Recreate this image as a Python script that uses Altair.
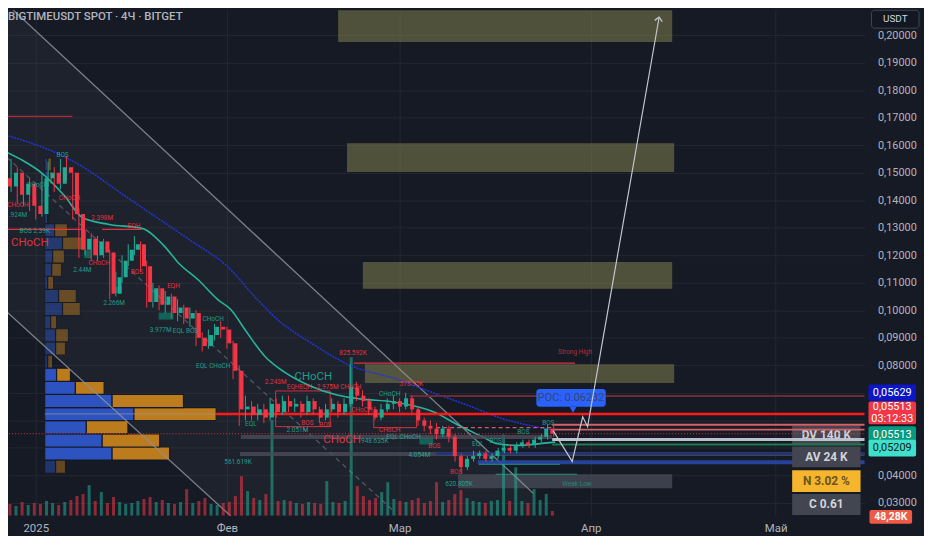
import altair as alt
import pandas as pd

TITLE = "BIGTIMEUSDT SPOT · 4Ч · BITGET"
FONT = "Roboto"

# ---------------- candles (one per day, from 2024-12-27) ----------------
CANDLE_START = "2024-12-27"
opens = [0.148, 0.145, 0.150, 0.142, 0.146,
         0.138, 0.135, 0.148, 0.150, 0.146, 0.152, 0.150, 0.135, 0.122, 0.126,
         0.120, 0.125, 0.121, 0.106, 0.112, 0.118, 0.122, 0.124, 0.116, 0.103,
         0.108, 0.102, 0.105, 0.099, 0.101, 0.097, 0.099, 0.090, 0.087, 0.091, 0.094,
         0.093, 0.088, 0.078, 0.064, 0.065, 0.062, 0.064, 0.061, 0.066, 0.063,
         0.067, 0.065, 0.066, 0.063, 0.067, 0.064, 0.061, 0.064, 0.066, 0.063,
         0.066, 0.072, 0.069, 0.067, 0.064, 0.061, 0.064, 0.066,
         0.067, 0.065, 0.068, 0.064, 0.060, 0.058, 0.057, 0.055, 0.057, 0.054,
         0.047, 0.043, 0.046, 0.047, 0.048, 0.046, 0.047, 0.049, 0.050, 0.049,
         0.051, 0.052, 0.051, 0.053, 0.054, 0.057]
closes = [0.145, 0.150, 0.142, 0.146, 0.138,
          0.135, 0.148, 0.150, 0.146, 0.152, 0.150, 0.135, 0.122, 0.126, 0.120,
          0.125, 0.121, 0.106, 0.112, 0.118, 0.122, 0.124, 0.116, 0.103, 0.108,
          0.102, 0.105, 0.099, 0.101, 0.097, 0.099, 0.090, 0.087, 0.091, 0.094, 0.093,
          0.088, 0.078, 0.064, 0.065, 0.062, 0.064, 0.061, 0.066, 0.063, 0.067,
          0.065, 0.066, 0.063, 0.067, 0.064, 0.061, 0.064, 0.066, 0.063, 0.066,
          0.072, 0.069, 0.067, 0.064, 0.061, 0.064, 0.066, 0.067,
          0.065, 0.068, 0.064, 0.060, 0.058, 0.057, 0.055, 0.057, 0.054, 0.047,
          0.043, 0.046, 0.047, 0.048, 0.046, 0.047, 0.049, 0.050, 0.049, 0.051,
          0.052, 0.051, 0.053, 0.054, 0.057, 0.05513]
highs = [0.152, 0.155, 0.152, 0.149, 0.148,
         0.141, 0.150, 0.154, 0.152, 0.155, 0.156, 0.152, 0.137, 0.129, 0.128,
         0.127, 0.126, 0.122, 0.114, 0.120, 0.124, 0.127, 0.125, 0.118, 0.110,
         0.109, 0.107, 0.106, 0.104, 0.102, 0.101, 0.100, 0.092, 0.093, 0.095, 0.096,
         0.094, 0.089, 0.080, 0.069, 0.067, 0.066, 0.066, 0.068, 0.068, 0.069,
         0.069, 0.068, 0.067, 0.069, 0.068, 0.065, 0.066, 0.068, 0.067, 0.068,
         0.0803, 0.074, 0.071, 0.068, 0.065, 0.066, 0.068, 0.069,
         0.068, 0.070, 0.069, 0.065, 0.061, 0.060, 0.059, 0.058, 0.058, 0.055,
         0.048, 0.047, 0.049, 0.049, 0.049, 0.048, 0.050, 0.051, 0.051, 0.052,
         0.053, 0.053, 0.054, 0.055, 0.0585, 0.058]
lows = [0.141, 0.143, 0.139, 0.138, 0.136,
        0.133, 0.134, 0.145, 0.143, 0.144, 0.147, 0.133, 0.119, 0.120, 0.118,
        0.118, 0.119, 0.104, 0.105, 0.110, 0.116, 0.120, 0.114, 0.101, 0.101,
        0.100, 0.099, 0.097, 0.096, 0.095, 0.094, 0.087, 0.085, 0.086, 0.089, 0.090,
        0.086, 0.075, 0.058, 0.060, 0.060, 0.060, 0.059, 0.060, 0.061, 0.062,
        0.063, 0.063, 0.061, 0.062, 0.062, 0.059, 0.060, 0.063, 0.061, 0.062,
        0.065, 0.067, 0.065, 0.062, 0.060, 0.060, 0.063, 0.064,
        0.063, 0.064, 0.062, 0.058, 0.056, 0.055, 0.053, 0.054, 0.052, 0.045,
        0.041, 0.042, 0.045, 0.046, 0.045, 0.045, 0.046, 0.048, 0.048, 0.048,
        0.050, 0.050, 0.050, 0.052, 0.053, 0.054]
volumes = [1.2, 1.0, 1.4, 1.1, 1.3,
           1.2, 1.5, 1.3, 1.1, 1.4, 1.6, 2.0, 2.2, 3.1, 1.5,
           2.4, 1.3, 1.9, 1.4, 1.2, 1.3, 1.5, 1.7, 1.9, 1.4,
           1.6, 1.3, 1.2, 1.4, 2.7, 1.3, 1.5, 1.8, 1.2, 1.1, 1.3,
           1.4, 2.0, 4.0, 2.5, 1.8, 1.6, 2.2, 9.7, 1.5, 1.6,
           1.5, 1.3, 1.2, 1.4, 1.3, 1.2, 3.5, 1.4, 1.3, 1.5,
           16.0, 3.0, 2.0, 1.6, 1.8, 2.4, 3.4, 1.7,
           1.5, 1.4, 1.6, 1.8, 1.3, 1.5, 3.4, 1.4, 1.6, 2.2,
           2.6, 1.8, 1.5, 1.4, 1.3, 1.5, 1.6, 8.2, 1.5, 4.9,
           1.5, 1.3, 2.7, 1.6, 2.2, 0.5]

# ---------------- moving averages (days since 2025-01-01, price) ----------------
ma_blue_day = [-5.79, 5.95, 15.59, 25.08, 31.19, 35.53, 39.23, 44.53, 50.96, 58.52,
               64.95, 70.26, 75.72, 81.03, 84.24]
ma_blue_val = [0.1643, 0.1543, 0.1398, 0.1254, 0.1157, 0.1049, 0.0966, 0.0883, 0.0800, 0.0750,
               0.0696, 0.0653, 0.0606, 0.0577, 0.05629]
ma_teal_day = [-5.79, -2.57, 1.13, 4.66, 7.56, 11.90, 17.20, 20.74, 23.15, 26.37, 29.58, 31.67,
               33.92, 37.14, 40.35, 44.53, 48.87, 52.57, 58.04, 61.25, 64.47, 68.65, 72.99,
               74.60, 78.30, 83.76, 84.24]
ma_teal_val = [0.1586, 0.1550, 0.1496, 0.1416, 0.1337, 0.1312, 0.1298, 0.1236, 0.1172, 0.1110,
               0.1038, 0.1002, 0.0930, 0.0833, 0.0775, 0.0725, 0.0692, 0.0678, 0.0667, 0.0653,
               0.0631, 0.0581, 0.0534, 0.0516, 0.0509, 0.0520, 0.05209]

# ---------------- descending channel ----------------
ch_upper_day = [-5.79, 80.71]
ch_upper_val = [0.21355, 0.03347]
ch_lower_day = [-5.79, 32.48]
ch_lower_val = [0.10166, 0.02349]
ch_mid_day = [-5.79, 58.04]
ch_mid_val = [0.15785, 0.02709]
ch_fill_day = [-5.79, 32.48, 80.71]
ch_fill_top = [0.21355, 0.13444, 0.03347]
ch_fill_bot = [0.10166, 0.02349, 0.02349]

# ---------------- volume profile (rows bottom -> top) ----------------
profile_low = 0.04078
profile_high = 0.15533
profile_buy = [110, 680, 580, 420, 900, 680, 310, 120, 30, 110, 110, 60, 180, 140, 30, 70,
               80, 180, 100, 30, 30, 50, 50, 30]
profile_sell = [100, 580, 580, 420, 830, 720, 290, 140, 50, 100, 130, 60, 180, 180, 60, 100,
                120, 200, 130, 10, 10, 10, 30, 40]
profile_value_area = [False, True, True, True, True, True, True, True] + [False] * 16
poc_price = 0.06232

# ---------------- zones ----------------
target_day1 = [49.04, 50.48, 53.05, 53.38]
target_day2 = [103.22, 103.54, 103.22, 103.54]
target_top = [0.21117, 0.16073, 0.11751, 0.08040]
target_bot = [0.19748, 0.15029, 0.10778, 0.07356]

gray_day1 = [68.49, 84.24]
gray_day2 = [103.22, 103.22]
gray_top = [0.04042, 0.02493]
gray_bot = [0.03537, 0.02241]

demand_day1 = [7.88, 12.70, 19.94, 62.22]
demand_day2 = [8.99, 13.99, 22.35, 64.47]
demand_top = [0.12183, 0.10850, 0.09914, 0.05411]
demand_bot = [0.11895, 0.10634, 0.09661, 0.05122]

supply_day1 = [38.91, 54.82]
supply_day2 = [47.75, 61.74]
supply_top = [0.07068, 0.06239]
supply_bot = [0.05771, 0.05735]

# horizontal levels: kind, price, from day, to day
lvl_kind = ["poc_profile", "poc", "strong_high", "old_high", "bos_red", "bos_red", "supply",
            "ob", "ob", "ob_dash", "last", "gray_band", "lavender", "green", "gray_band",
            "navy", "blue", "teal", "teal"]
lvl_price = [0.06232, 0.06232, 0.08076, 0.17046, 0.1294, 0.1294, 0.06888,
             0.05843, 0.05663, 0.05735, 0.05513, 0.05393, 0.05303, 0.05122, 0.04780,
             0.04798, 0.04474, 0.04402, 0.04042]
lvl_from = [1.45, 29.26, 51.6, -5.79, -5.79, 10.77, 60.61,
            83.76, 83.76, 64.95, -5.79, 33.28, 83.76, 83.76, 33.12,
            64.95, 71.70, 71.86, 74.60]
lvl_to = [29.26, 135, 87.46, 5.95, 7.40, 17.20, 135,
          135, 135, 83.76, 135, 83.76, 135, 135, 135,
          135, 135, 85.05, 87.78]

# projected path (days, price)
path_day = [83.9, 87.0, 88.7, 89.5, 101.1]
path_val = [0.05627, 0.04510, 0.06131, 0.05771, 0.20648]

# ---------------- structure labels ----------------
ann_text = ["BOS", "CHoCH", "CHoCH", "CHoCH", "2.398M", "EQH", "BOS 2.39K", "CHoCH", "CHoCH",
            "2.44M", "BOS", "2.266M", "EQH", "3.977M", "EQL BOS", "CHoCH", "EQL CHoCH",
            "825.592K", "2.243M", "CHoCH", "2.975M CHoCH", "EQHEQH", "BOS", "2.051M", "CHoCH",
            "948.635K", "561.619K", "CHoCH", "CHoCH", "575.95K", "CHoCH", "EQL CHoCH", "BOS",
            "4.054M", "BOS", "620.805K", "EQL", "BOS", "BOS", "BOS", "Weak Low", "Strong High",
            "EQL", "BOS", ".924M"]
ann_day = [4.34, 0.32, 5.47, -2.89, 10.77, 15.92, -0.16, -0.96, 10.29,
           7.56, 16.40, 12.70, 22.35, 20.26, 24.28, 28.78, 28.78,
           51.45, 38.91, 45.02, 49.20, 42.77, 44.05, 42.44, 49.68,
           54.98, 32.80, 52.89, 57.40, 60.93, 57.40, 59.65, 64.63,
           62.22, 68.17, 68.65, 71.70, 74.60, 79.10, 83.12, 87.78, 87.46,
           34.89, 46.95, -2.89]
ann_price = [0.15641, 0.14561, 0.14092, 0.13840, 0.13336, 0.13048, 0.12867, 0.12435, 0.11715,
             0.11463, 0.11391, 0.10274, 0.10886, 0.09265, 0.09229, 0.09697, 0.07968,
             0.08437, 0.07392, 0.07572, 0.07212, 0.07212, 0.05915, 0.05663, 0.05267,
             0.05231, 0.04474, 0.06383, 0.06960, 0.07320, 0.05663, 0.05411, 0.05050,
             0.04726, 0.04114, 0.03682, 0.05123, 0.05231, 0.05591, 0.05915, 0.03682, 0.08473,
             0.05879, 0.05843, 0.13444]
ann_kind = ["bull", "bull", "bear", "bear", "bear", "bear", "bull", "bear_big", "bear",
            "bull", "bear", "bull", "bear", "bull", "bull", "bull", "bull",
            "bear", "bear", "bull_big", "bear", "bear", "bear", "bull", "bear_big",
            "bull", "bull", "bear", "bull", "bear", "bear", "bull", "bear",
            "bull", "bear", "bull", "bull", "bull", "bull", "bull", "note_bull", "note_bear",
            "bull", "bear", "bull"]

# ---------------- price tags / panel ----------------
tag_values = [0.05629, 0.05513, 0.05513, 0.05209]
tag_texts = ["0,05629", "0,05513", "0,05513", "0,05209"]
tag_subs = ["", "03:12:33", "", ""]
poc_label = "POC: 0.06232"
poc_day = [81.19, 92.44]
poc_box = [0.07140, 0.06491]
poc_tip = (87.14, 0.06383)
panel_texts = ["DV 140 K", "AV 24 K", "N 3.02 %", "C  0.61"]
volume_tag = "48,28K"
currency = "USDT"

# ---------------- axis ----------------
price_ticks = [0.03, 0.04, 0.05, 0.06, 0.07, 0.08, 0.09, 0.10, 0.11, 0.12, 0.13, 0.14, 0.15,
               0.16, 0.17, 0.18, 0.19, 0.20]
hidden_ticks = [0.05, 0.06, 0.07]      # covered by the price tags
month_days = [0, 31, 59, 90, 120]
month_labels = ["2025", "Фев", "Мар", "Апр", "Май"]

# =====================================================================
# styles
BG = "#161a25"
GRID = "#232734"
TXT = "#b2b5be"
UP = "#22ab94"
DOWN = "#f23645"
XD = [-4.50, 134.41]
YD = [0.02529, 0.20901]
W, H = 864, 510

LEVEL_STYLE_BACK = {
    "gray_band": dict(color="#4a4e5a", strokeWidth=4, opacity=0.8),
    "navy": dict(color="#1b2f86", strokeWidth=2, opacity=1),
    "blue": dict(color="#2848a8", strokeWidth=4, opacity=0.9),
    "teal": dict(color="#22ab94", strokeWidth=1, opacity=0.8),
}
LEVEL_STYLE_FRONT = {
    "poc_profile": dict(color="#9598a1", strokeWidth=1, opacity=0.7),
    "poc": dict(color="#ff1a1a", strokeWidth=2.5, opacity=1),
    "strong_high": dict(color="#f23645", strokeWidth=1.3, opacity=0.9),
    "old_high": dict(color="#b22833", strokeWidth=1.2, opacity=1),
    "bos_red": dict(color="#f23645", strokeWidth=1.3, opacity=0.9),
    "supply": dict(color="#6e2a33", strokeWidth=2, opacity=1),
    "ob": dict(color="#e0646c", strokeWidth=2, opacity=0.95),
    "ob_dash": dict(color="#e0646c", strokeWidth=1.2, opacity=0.9, strokeDash=[4, 3]),
    "last": dict(color="#f23645", strokeWidth=1, opacity=0.9, strokeDash=[1, 2]),
    "lavender": dict(color="#c4c7d4", strokeWidth=3, opacity=0.95),
    "green": dict(color="#1e7a4c", strokeWidth=2, opacity=1),
}
LABEL_STYLE = {
    "bull": (UP, 6.5), "bear": (DOWN, 6.5),
    "bull_big": (UP, 11.5), "bear_big": (DOWN, 11.5),
    "note_bull": ("#1f8f7c", 6.5), "note_bear": ("#c23540", 6.5),
}
TAG_STYLE = [
    dict(bg="#0b16c4", fg="#ffffff", dy=-38, h=8.5),
    dict(bg="#f23645", fg="#ffffff", dy=-21, h=11.5),
    dict(bg="#089981", fg="#ffffff", dy=1, h=8.5),
    dict(bg="#3fe0c8", fg="#131722", dy=6, h=8.5),
]
PANEL_STYLE = [
    dict(bg="#434651", fg="#d1d4dc", top=419, bot=438),
    dict(bg="#434651", fg="#d1d4dc", top=440, bot=461),
    dict(bg="#f5b52c", fg="#6a5420", top=464, bot=486),
    dict(bg="#434651", fg="#d1d4dc", top=488, bot=509),
]


def X(field, axis=None):
    return alt.X(field, type="quantitative", axis=axis,
                 scale=alt.Scale(domain=XD, nice=False, zero=False))


def Y(field, axis=None):
    return alt.Y(field, type="quantitative", axis=axis,
                 scale=alt.Scale(domain=YD, nice=False, zero=False))


# ---------------- data frames ----------------
dates = pd.date_range(CANDLE_START, periods=len(closes), freq="D")
cdf = pd.DataFrame({
    "day": (dates - pd.Timestamp("2025-01-01")).days.astype(float),
    "open": opens, "high": highs, "low": lows, "close": closes, "vol": volumes,
})
cdf["dir"] = ["up" if c >= o else "down" for o, c in zip(cdf["open"], cdf["close"])]
cdf["lo"] = cdf[["open", "close"]].min(axis=1)
cdf["hi"] = cdf[["open", "close"]].max(axis=1)
dir_color = alt.Color("dir:N", scale=alt.Scale(domain=["up", "down"], range=[UP, DOWN]),
                      legend=None)

x_label_expr = " : ".join(f"datum.value == {d} ? '{l}'" for d, l in zip(month_days, month_labels)) + " : ''"
hide_expr = " || ".join(f"abs(datum.value - {v}) < 0.0001" for v in hidden_ticks)
y_label_expr = f"({hide_expr}) ? '' : replace(format(datum.value, '.5f'), '.', ',')"
x_axis = alt.Axis(values=month_days, labelExpr=x_label_expr, grid=True, gridColor=GRID,
                  domain=False, ticks=False, labelColor=TXT, labelFontSize=11.5,
                  labelPadding=7, title=None, labelFont=FONT, labelFlush=False)
y_axis = alt.Axis(orient="right", values=price_ticks, labelExpr=y_label_expr,
                  grid=True, gridColor=GRID, domain=False, ticks=False, labelColor=TXT,
                  labelFontSize=11, labelPadding=13, title=None, labelFont=FONT)

layers = []

# channel fill (carries the axes)
fill_df = pd.DataFrame({"d": ch_fill_day, "top": ch_fill_top, "bot": ch_fill_bot})
layers.append(alt.Chart(fill_df).mark_area(color="#ffffff", opacity=0.035, clip=True).encode(
    x=X("d", x_axis), y=Y("top", y_axis), y2=alt.Y2("bot")))

# olive target zones
tz = pd.DataFrame({"d1": target_day1, "d2": target_day2, "t": target_top, "b": target_bot})
layers.append(alt.Chart(tz).mark_rect(color="#8a874f", opacity=0.5, clip=True).encode(
    x=X("d1"), x2=alt.X2("d2"), y=Y("t"), y2=alt.Y2("b")))

gz = pd.DataFrame({"d1": gray_day1, "d2": gray_day2, "t": gray_top, "b": gray_bot})
layers.append(alt.Chart(gz).mark_rect(color="#4a4e5a", opacity=0.75, clip=True).encode(
    x=X("d1"), x2=alt.X2("d2"), y=Y("t"), y2=alt.Y2("b")))

# volume profile
n_rows = len(profile_buy)
step = (profile_high - profile_low) / n_rows
pdf = pd.DataFrame({
    "lo": [profile_low + i * step for i in range(n_rows)],
    "hi": [profile_low + (i + 1) * step for i in range(n_rows)],
    "buy": profile_buy, "sell": profile_sell, "va": profile_value_area,
})
pdf["zero"] = 0
pdf["tot"] = pdf["buy"] + pdf["sell"]
pdf["alpha"] = [0.9 if v else 0.42 for v in pdf["va"]]
PX = alt.Scale(domain=[-370, 8270], nice=False, zero=False)
for c0, c1, col in [("zero", "buy", "#2f5ad0"), ("buy", "tot", "#cf861c")]:
    layers.append(alt.Chart(pdf).mark_rect(color=col, stroke=BG, strokeWidth=1.2).encode(
        x=alt.X(c0, type="quantitative", scale=PX, axis=None), x2=alt.X2(c1),
        y=Y("lo"), y2=alt.Y2("hi"), opacity=alt.Opacity("alpha:Q", scale=None)))

# channel lines
for dd, vv, dash, col in [(ch_upper_day, ch_upper_val, None, "#8d909a"),
                          (ch_lower_day, ch_lower_val, None, "#8d909a"),
                          (ch_mid_day, ch_mid_val, [5, 4], "#5d606b")]:
    kw = dict(color=col, strokeWidth=1.3, clip=True, opacity=0.85)
    if dash:
        kw["strokeDash"] = dash
    layers.append(alt.Chart(pd.DataFrame({"d": dd, "v": vv})).mark_line(**kw).encode(
        x=X("d"), y=Y("v")))

# volume bars
layers.append(alt.Chart(cdf).mark_bar(size=3, opacity=0.55, clip=True).encode(
    x=X("day"),
    y=alt.Y("vol", type="quantitative", axis=None,
            scale=alt.Scale(domain=[0, 51], nice=False, zero=True)),
    color=dir_color))

# demand / supply boxes
dz = pd.DataFrame({"d1": demand_day1, "d2": demand_day2, "t": demand_top, "b": demand_bot})
layers.append(alt.Chart(dz).mark_rect(color="#089981", opacity=0.55).encode(
    x=X("d1"), x2=alt.X2("d2"), y=Y("t"), y2=alt.Y2("b")))
sz = pd.DataFrame({"d1": supply_day1, "d2": supply_day2, "t": supply_top, "b": supply_bot})
layers.append(alt.Chart(sz).mark_rect(fillOpacity=0, stroke="#f23645", strokeWidth=1,
                                      opacity=0.85).encode(
    x=X("d1"), x2=alt.X2("d2"), y=Y("t"), y2=alt.Y2("b")))

# moving averages
layers.append(alt.Chart(pd.DataFrame({"d": ma_teal_day, "v": ma_teal_val})).mark_line(
    color="#26b59b", strokeWidth=1.6, interpolate="monotone", clip=True).encode(
    x=X("d"), y=Y("v")))
layers.append(alt.Chart(pd.DataFrame({"d": ma_blue_day, "v": ma_blue_val})).mark_line(
    color="#2036d8", strokeWidth=1.5, strokeDash=[2, 1], interpolate="monotone",
    clip=True).encode(x=X("d"), y=Y("v")))

ldf = pd.DataFrame({"kind": lvl_kind, "p": lvl_price, "d1": lvl_from, "d2": lvl_to})


def level_layers(styles):
    out = []
    for kind, st in styles.items():
        sub = ldf[ldf["kind"] == kind]
        if len(sub) == 0:
            continue
        out.append(alt.Chart(sub).mark_rule(clip=True, **st).encode(
            x=X("d1"), x2=alt.X2("d2"), y=Y("p")))
    return out


# levels that sit under the stats panel
layers += level_layers(LEVEL_STYLE_BACK)

# stats panel; the first row is crossed by the order-block levels
for txt, st in zip(panel_texts, PANEL_STYLE):
    one = pd.DataFrame({"t": [txt]})
    layers.append(alt.Chart(one).mark_rect(color=st["bg"]).encode(
        x=alt.value(791), x2=alt.value(860), y=alt.value(st["top"]), y2=alt.value(st["bot"])))
    layers.append(alt.Chart(one).mark_text(color=st["fg"], fontSize=12, font=FONT,
                                           fontWeight="bold").encode(
        x=alt.value(825.5), y=alt.value((st["top"] + st["bot"]) / 2), text="t:N"))

# levels drawn over the panel
layers += level_layers(LEVEL_STYLE_FRONT)

# candles
layers.append(alt.Chart(cdf).mark_rule(strokeWidth=1, clip=True).encode(
    x=X("day"), y=Y("low"), y2=alt.Y2("high"), color=dir_color))
layers.append(alt.Chart(cdf).mark_bar(size=4, clip=True).encode(
    x=X("day"), y=Y("lo"), y2=alt.Y2("hi"), color=dir_color))

# structure labels
adf = pd.DataFrame({"text": ann_text, "day": ann_day, "price": ann_price, "kind": ann_kind})
adf["col"] = [LABEL_STYLE[k][0] for k in adf["kind"]]
adf["fs"] = [LABEL_STYLE[k][1] for k in adf["kind"]]
layers.append(alt.Chart(adf).mark_text(font=FONT, opacity=0.9).encode(
    x=X("day"), y=Y("price"), text="text:N",
    color=alt.Color("col:N", scale=None), size=alt.Size("fs:Q", scale=None)))

# POC callout
pocdf = pd.DataFrame({"d1": [poc_day[0]], "d2": [poc_day[1]], "t": [poc_box[0]],
                      "b": [poc_box[1]], "label": [poc_label],
                      "dm": [(poc_day[0] + poc_day[1]) / 2], "vm": [(poc_box[0] + poc_box[1]) / 2],
                      "td": [poc_tip[0]], "tv": [poc_tip[1]]})
layers.append(alt.Chart(pocdf).mark_rect(color="#2962ff", cornerRadius=3).encode(
    x=X("d1"), x2=alt.X2("d2"), y=Y("t"), y2=alt.Y2("b")))
layers.append(alt.Chart(pocdf).mark_point(shape="triangle-down", filled=True, size=45,
                                          color="#2962ff", opacity=1).encode(
    x=X("td"), y=Y("tv")))
layers.append(alt.Chart(pocdf).mark_text(color="#3a4468", fontSize=11, font=FONT).encode(
    x=X("dm"), y=Y("vm"), text="label:N"))

# projected path + arrow head
pathdf = pd.DataFrame({"d": path_day, "v": path_val, "o": list(range(len(path_day)))})
layers.append(alt.Chart(pathdf).mark_line(color="#c3c6d0", strokeWidth=1.2, clip=True).encode(
    x=X("d"), y=Y("v"), order="o:Q"))
layers.append(alt.Chart(pathdf.tail(1)).mark_point(
    shape="M -1 1 L 0 0 L 1 1", filled=False, size=60, angle=10, color="#c3c6d0",
    strokeWidth=1.3, opacity=1).encode(x=X("d"), y=Y("v")))

# price tags on the axis
for v, t, s, st in zip(tag_values, tag_texts, tag_subs, TAG_STYLE):
    one = pd.DataFrame({"v": [v], "t": [t], "s": [s]})
    layers.append(alt.Chart(one).mark_rect(color=st["bg"], cornerRadius=2,
                                           yOffset=st["dy"] - st["h"],
                                           y2Offset=st["dy"] + st["h"]).encode(
        x=alt.value(868), x2=alt.value(916), y=Y("v"), y2=alt.Y2("v")))
    if s:
        layers.append(alt.Chart(one).mark_text(color=st["fg"], fontSize=11, font=FONT,
                                               yOffset=st["dy"] - 5.5).encode(
            x=alt.value(892), y=Y("v"), text="t:N"))
        layers.append(alt.Chart(one).mark_text(color=st["fg"], fontSize=11, font=FONT,
                                               yOffset=st["dy"] + 6).encode(
            x=alt.value(892), y=Y("v"), text="s:N"))
    else:
        layers.append(alt.Chart(one).mark_text(color=st["fg"], fontSize=11, font=FONT,
                                               yOffset=st["dy"]).encode(
            x=alt.value(892), y=Y("v"), text="t:N"))

# volume tag (last bar volume)
vt = pd.DataFrame({"t": [volume_tag]})
layers.append(alt.Chart(vt).mark_rect(color="#ef5a45", cornerRadius=2).encode(
    x=alt.value(869), x2=alt.value(912), y=alt.value(504), y2=alt.value(518)))
layers.append(alt.Chart(vt).mark_text(color="#ffffff", fontSize=10.5, font=FONT,
                                      fontWeight="bold").encode(
    x=alt.value(890.5), y=alt.value(511), text="t:N"))

# currency box + title
cb = pd.DataFrame({"t": [currency]})
layers.append(alt.Chart(cb).mark_rect(color="#131722", stroke="#434651", strokeWidth=1,
                                      cornerRadius=3).encode(
    x=alt.value(871), x2=alt.value(919), y=alt.value(0), y2=alt.value(18)))
layers.append(alt.Chart(cb).mark_text(color="#d1d4dc", fontSize=10, font=FONT).encode(
    x=alt.value(895), y=alt.value(9), text="t:N"))
tt = pd.DataFrame({"t": [TITLE]})
layers.append(alt.Chart(tt).mark_text(color=TXT, fontSize=11.5, font=FONT, align="left",
                                      fontWeight=500).encode(
    x=alt.value(0), y=alt.value(7), text="t:N"))

chart = alt.layer(*layers).resolve_scale(x="independent", y="independent").properties(
    width=W, height=H,
    autosize=alt.AutoSizeParams(type="none"),
    padding={"left": 0, "top": 0, "right": 60, "bottom": 18},
).configure(background=BG, font=FONT).configure_view(stroke=None)

chart.save("out.html", embed_options={"renderer": "svg", "actions": False})
